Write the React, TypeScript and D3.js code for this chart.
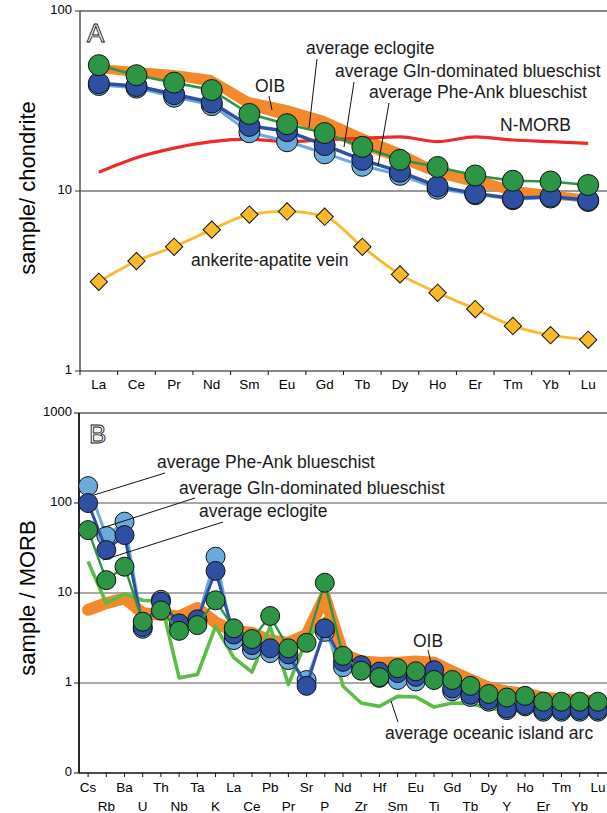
import { area, curveMonotoneX, line, scaleBand, scaleLog, symbol, symbolSquare } from "d3";

// panel A: chondrite-normalised REE
const reeLabels = ["La", "Ce", "Pr", "Nd", "Sm", "Eu", "Gd", "Tb", "Dy", "Ho", "Er", "Tm", "Yb", "Lu"];
const reeEclogite = [50, 44, 40, 36.4, 26.8, 23.5, 21, 17.6, 14.9, 13.6, 12.2, 11.4, 11.3, 10.8];
const reeGln = [39.7, 38.3, 34.5, 31, 23, 21.5, 18, 14.9, 12.8, 10.6, 9.7, 9.1, 9.3, 8.9];
const rePheAnk = [38.8, 37.5, 33.4, 30, 21.2, 18.9, 16.2, 13.8, 12.3, 10.3, 9.6, 9.0, 9.2, 8.8];
const reeOibHigh = [50.8, 48.9, 47, 44.1, 33.3, 30, 26.1, 21, 17.3, 13.6, 12.3, 10.7, 10.1, 9.5];
const reeOibLow = [45.2, 43, 41.4, 37.8, 28.2, 24.5, 20.7, 16.9, 14.3, 11.8, 10.5, 9.5, 9.0, 8.6];
const reeNmorb = [12.7, 15.3, 17.3, 18.8, 19.4, 18.8, 19.3, 19.6, 20, 18.8, 20, 19.2, 18.8, 18.4];
const reeVein = [3.13, 4.08, 4.9, 6.1, 7.4, 7.7, 7.2, 4.9, 3.44, 2.72, 2.21, 1.78, 1.58, 1.49];
const ticksA = [1, 10, 100];

// panel B: MORB-normalised trace elements
const teLabels = ["Cs", "Rb", "Ba", "U", "Th", "Nb", "Ta", "K", "La", "Ce", "Pb", "Pr", "Sr", "P", "Nd", "Zr", "Hf", "Sm", "Eu", "Ti", "Gd", "Tb", "Dy", "Y", "Ho", "Er", "Tm", "Yb", "Lu"];
const teEclogite = [50, 13.9, 19.6, 4.8, 6.4, 3.8, 4.4, 8.3, 4.05, 3.08, 5.55, 2.43, 2.8, 13, 2.0, 1.37, 1.16, 1.46, 1.35, 1.08, 1.08, 0.93, 0.755, 0.69, 0.72, 0.62, 0.62, 0.62, 0.62];
const teGln = [100, 30, 44, 4.2, 8.0, 4.6, 5.1, 17.6, 3.46, 2.64, 2.43, 2.08, 0.93, 4.05, 1.72, 1.58, 1.34, 1.29, 1.17, 1.39, 0.87, 0.74, 0.65, 0.52, 0.57, 0.5, 0.5, 0.5, 0.5];
const tePheAnk = [154, 43, 62, 4.0, 8.4, 4.4, 4.9, 25.3, 3.0, 2.33, 2.15, 1.8, 1.08, 3.7, 1.5, 1.4, 1.14, 1.08, 1.04, 1.2, 0.81, 0.7, 0.62, 0.5, 0.55, 0.48, 0.48, 0.48, 0.48];
const teOib = [6.5, 7.7, 8.75, 5.97, 5.74, 5.5, 6.8, 4.7, 3.76, 3.62, 2.95, 2.8, 3.44, 9.1, 2.12, 1.73, 1.68, 1.68, 1.73, 1.68, 1.34, 1.09, 0.89, 0.8, 0.76, 0.69, 0.65, 0.65, 0.62];
const teArc = [22.4, 7.7, 9.8, 8.3, 8.07, 1.14, 1.24, 4.25, 1.91, 1.32, 4.25, 0.96, 3.03, 5.27, 0.92, 0.6, 0.55, 0.71, 0.7, 0.54, 0.6, 0.59, 0.52, 0.5, 0.52, 0.5, 0.52, 0.52, 0.52];
const ticksB = [0.1, 1, 10, 100, 1000];
const tickLabelsB = ["0", "1", "10", "100", "1000"];

const FONT = "'Liberation Sans', Arial, Helvetica, sans-serif";
const col = {
    dark: "#2f4fa3",
    light: "#6aabdc",
    green: "#2e9446",
    oib: "#f4892c",
    red: "#ec2b2b",
    arc: "#5dbb47",
    gold: "#fbb92b",
};

type Pt = [number, number];

const Series = ({ pts, color, width, r }: { pts: Pt[]; color: string; width: number; r: number }) => (
    <g>
        <path d={line()(pts) ?? ""} fill="none" stroke={color} strokeWidth={width} strokeLinejoin="round" />
        {pts.map(([x, y], i) => (
            <circle key={i} cx={x} cy={y} r={r} fill={color} stroke="#111" strokeWidth={1} />
        ))}
    </g>
);

const Note = ({ x, y, children }: { x: number; y: number; children: string }) => (
    <text x={x} y={y} fontSize={17.5} fill="#1a1a1a">{children}</text>
);

const Leader = ({ x1, y1, x2, y2 }: { x1: number; y1: number; x2: number; y2: number }) => (
    <line x1={x1} y1={y1} x2={x2} y2={y2} stroke="#111" strokeWidth={1} />
);

export default function App() {
    // panel A scales
    const xA = scaleBand<string>().domain(reeLabels).range([80, 607]);
    const cxA = (c: string) => (xA(c) ?? 0) + xA.bandwidth() / 2;
    const yA = scaleLog().domain([1, 100]).range([371, 11]);
    const ptsA = (vals: number[]): Pt[] => vals.map((v, i) => [cxA(reeLabels[i]), yA(v)]);

    // panel B scales
    const xB = scaleBand<string>().domain(teLabels).range([79, 607]);
    const cxB = (c: string) => (xB(c) ?? 0) + xB.bandwidth() / 2;
    const yB = scaleLog().domain([0.1, 1000]).range([773, 413]);
    const ptsB = (vals: number[]): Pt[] => vals.map((v, i) => [cxB(teLabels[i]), yB(v)]);

    const oibArea = area<number>()
        .x((_, i) => cxA(reeLabels[i]))
        .y0((_, i) => yA(reeOibLow[i]))
        .y1((v) => yA(v));

    const smooth = line().curve(curveMonotoneX);
    const diamond = symbol(symbolSquare, 150)() ?? "";

    return (
        <svg width={607} height={813} style={{ position: "absolute", left: 0, top: 0, fontFamily: FONT }}>
            <rect width={607} height={813} fill="white" />

            {/* ---------- panel A ---------- */}
            <line x1={80} x2={607} y1={yA(100)} y2={yA(100)} stroke="#111" strokeWidth={1.2} />
            <line x1={80} x2={607} y1={yA(10)} y2={yA(10)} stroke="#777" strokeWidth={1.6} />
            <line x1={80} x2={80} y1={yA(100)} y2={yA(1)} stroke="#555" strokeWidth={1.5} />
            <line x1={80} x2={607} y1={yA(1)} y2={yA(1)} stroke="#111" strokeWidth={1.2} />
            {ticksA.map((t) => (
                <g key={t}>
                    <line x1={75} x2={80} y1={yA(t)} y2={yA(t)} stroke="#333" />
                    <text x={72} y={yA(t)} fontSize={13} textAnchor="end" dominantBaseline="middle">{t}</text>
                </g>
            ))}
            {reeLabels.map((c) => (
                <g key={c}>
                    <line x1={xA(c)} x2={xA(c)} y1={371} y2={375} stroke="#111" />
                    <text x={cxA(c)} y={389} fontSize={13.5} textAnchor="middle">{c}</text>
                </g>
            ))}
            <text transform="translate(35,188) rotate(-90)" fontSize={22} textAnchor="middle">sample/ chondrite</text>
            <text x={87} y={42} fontSize={26} fill="white" stroke="#111" strokeWidth={0.9}>A</text>

            <path d={oibArea(reeOibHigh) ?? ""} fill={col.oib} />
            <path d={smooth(reeNmorb.map((v, i) => [cxA(reeLabels[i]), yA(v)] as Pt)) ?? ""} fill="none" stroke={col.red} strokeWidth={3.2} />
            <Series pts={ptsA(rePheAnk)} color={col.light} width={3} r={10.5} />
            <Series pts={ptsA(reeGln)} color={col.dark} width={3.5} r={10.5} />
            <Series pts={ptsA(reeEclogite)} color={col.green} width={2.6} r={10.5} />

            <path d={smooth(ptsA(reeVein)) ?? ""} fill="none" stroke={col.gold} strokeWidth={2.8} />
            {ptsA(reeVein).map(([x, y], i) => (
                <path key={i} d={diamond} transform={`translate(${x},${y}) rotate(45)`} fill={col.gold} stroke="#111" strokeWidth={1} />
            ))}

            <Note x={255} y={92}>OIB</Note>
            <Leader x1={269} y1={96} x2={272} y2={110} />
            <Note x={306} y={54}>average eclogite</Note>
            <Leader x1={317} y1={59} x2={309} y2={128} />
            <Note x={335} y={77}>average Gln-dominated blueschist</Note>
            <Leader x1={354} y1={82} x2={344} y2={147} />
            <Note x={369} y={98}>average Phe-Ank blueschist</Note>
            <Leader x1={389} y1={103} x2={378} y2={166} />
            <Note x={500} y={131}>N-MORB</Note>
            <Note x={191} y={266}>ankerite-apatite vein</Note>

            {/* ---------- panel B ---------- */}
            <line x1={79} x2={607} y1={yB(1000)} y2={yB(1000)} stroke="#111" strokeWidth={1.2} />
            {[1, 10, 100].map((t) => (
                <line key={t} x1={79} x2={607} y1={yB(t)} y2={yB(t)} stroke="#555" strokeWidth={1.2} />
            ))}
            <line x1={79} x2={79} y1={yB(1000)} y2={yB(0.1)} stroke="#111" strokeWidth={1.8} />
            <line x1={79} x2={607} y1={yB(0.1)} y2={yB(0.1)} stroke="#111" strokeWidth={1.5} />
            {ticksB.map((t, i) => (
                <g key={t}>
                    <line x1={74} x2={79} y1={yB(t)} y2={yB(t)} stroke="#111" />
                    <text x={72} y={yB(t)} fontSize={13} textAnchor="end" dominantBaseline="middle">{tickLabelsB[i]}</text>
                </g>
            ))}
            {teLabels.map((c, i) => (
                <g key={c}>
                    <line x1={cxB(c)} x2={cxB(c)} y1={773} y2={777} stroke="#111" />
                    <text x={cxB(c)} y={i % 2 === 0 ? 792 : 811} fontSize={13.5} textAnchor="middle">{c}</text>
                </g>
            ))}
            <text transform="translate(35,598) rotate(-90)" fontSize={22} textAnchor="middle">sample / MORB</text>
            <text x={89} y={443} fontSize={26} fill="white" stroke="#111" strokeWidth={0.9}>B</text>

            <path d={line()(ptsB(teOib)) ?? ""} fill="none" stroke={col.oib} strokeWidth={12} strokeLinejoin="round" strokeLinecap="round" />
            <path d={line()(ptsB(teArc)) ?? ""} fill="none" stroke={col.arc} strokeWidth={3.6} strokeLinejoin="round" />
            <Series pts={ptsB(tePheAnk)} color={col.light} width={3} r={9.5} />
            <Series pts={ptsB(teGln)} color={col.dark} width={3} r={9.5} />
            <Series pts={ptsB(teEclogite)} color={col.green} width={2.4} r={9.5} />

            <Note x={157} y={468}>average Phe-Ank blueschist</Note>
            <Leader x1={94} y1={495} x2={165} y2={473} />
            <Note x={179} y={494}>average Gln-dominated blueschist</Note>
            <Leader x1={102} y1={528} x2={195} y2={498} />
            <Note x={199} y={517}>average eclogite</Note>
            <Leader x1={103} y1={560} x2={223} y2={522} />
            <Note x={413} y={647}>OIB</Note>
            <Leader x1={428} y1={650} x2={431} y2={663} />
            <Note x={385} y={739}>average oceanic island arc</Note>
            <Leader x1={391} y1={701} x2={398} y2={722} />
        </svg>
    );
}
